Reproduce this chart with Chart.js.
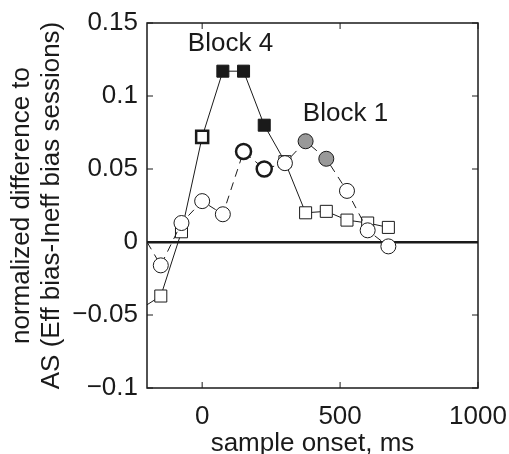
<!DOCTYPE html>
<html>
<head>
<meta charset="utf-8">
<script src="https://cdn.jsdelivr.net/npm/chart.js@4"></script>
<style>
  html, body { margin: 0; padding: 0; background: #fff; }
  #wrap { width: 509px; height: 454px; }
</style>
</head>
<body>
<div id="wrap"><canvas id="chart" width="509" height="454"></canvas></div>
<script>
// --- Data ---
const sampleOnset = [-225, -150, -75, 0, 75, 150, 225, 300, 375, 450, 525, 600, 675];
const block4Values = [-0.046, -0.037, 0.007, 0.072, 0.117, 0.117, 0.080, 0.055, 0.020, 0.021, 0.015, 0.013, 0.010];
const block1Values = [0.008, -0.016, 0.013, 0.028, 0.019, 0.062, 0.050, 0.054, 0.069, 0.057, 0.035, 0.008, -0.003];
const xTickValues = [0, 500, 1000];
const yTickValues = [-0.1, -0.05, 0, 0.05, 0.1, 0.15];
const block4Filled = [4, 5, 6];
const block4Bold = [3];
const block1Filled = [8, 9];
const block1Bold = [5, 6];

const FONT = 'Liberation Sans, Arial, Helvetica, sans-serif';
const FS = 26;
const INK = '#1a1a1a';

function toPoints(xs, ys) {
    return xs.map((x, i) => ({ x: x, y: ys[i] }));
}

// box + inward ticks + block labels (MATLAB style)
const frameAndLabels = {
    id: 'frameAndLabels',
    afterDraw(chart) {
        const ctx = chart.ctx;
        const a = chart.chartArea;
        const xs = chart.scales.x;
        const ys = chart.scales.y;
        const tl = 6;
        ctx.save();
        ctx.strokeStyle = INK;
        ctx.lineWidth = 1.5;
        ctx.strokeRect(a.left, a.top, a.right - a.left, a.bottom - a.top);
        ctx.lineWidth = 1;
        ctx.beginPath();
        xTickValues.forEach(v => {
            const px = xs.getPixelForValue(v);
            ctx.moveTo(px, a.bottom); ctx.lineTo(px, a.bottom - tl);
            ctx.moveTo(px, a.top); ctx.lineTo(px, a.top + tl);
        });
        yTickValues.forEach(v => {
            const py = ys.getPixelForValue(v);
            ctx.moveTo(a.left, py); ctx.lineTo(a.left + tl, py);
            ctx.moveTo(a.right, py); ctx.lineTo(a.right - tl, py);
        });
        ctx.stroke();

        ctx.fillStyle = INK;
        ctx.font = FS + 'px ' + FONT;
        ctx.textBaseline = 'middle';
        ctx.textAlign = 'left';
        ctx.fillText('Block 4', xs.getPixelForValue(-52), ys.getPixelForValue(0.1356));
        ctx.fillText('Block 1', xs.getPixelForValue(365), ys.getPixelForValue(0.088));
        ctx.restore();
    }
};

const ctx = document.getElementById('chart').getContext('2d');
new Chart(ctx, {
    type: 'line',
    data: {
        datasets: [
            {
                label: 'Block 1',
                data: toPoints(sampleOnset, block1Values),
                borderColor: INK,
                borderWidth: 1,
                borderDash: [8, 6],
                fill: false,
                tension: 0,
                pointStyle: 'circle',
                pointRadius: c => (c.dataIndex === 0 ? 0 : 7.5),
                pointBorderColor: INK,
                pointBackgroundColor: c => (block1Filled.includes(c.dataIndex) ? '#999999' : '#ffffff'),
                pointBorderWidth: c => (block1Bold.includes(c.dataIndex) ? 2.5 : 1)
            },
            {
                label: 'Block 4',
                data: toPoints(sampleOnset, block4Values),
                borderColor: INK,
                borderWidth: 1,
                fill: false,
                tension: 0,
                pointStyle: 'rect',
                pointRadius: c => (c.dataIndex === 0 ? 0 : 8.5),
                pointBorderColor: INK,
                pointBackgroundColor: c => (block4Filled.includes(c.dataIndex) ? INK : '#ffffff'),
                pointBorderWidth: c => (block4Bold.includes(c.dataIndex) ? 2.5 : 1)
            }
        ]
    },
    options: {
        responsive: false,
        animation: false,
        events: [],
        layout: { padding: { top: 23, right: 31, left: 0, bottom: 0 } },
        plugins: {
            legend: { display: false },
            tooltip: { enabled: false }
        },
        scales: {
            x: {
                type: 'linear',
                min: -200,
                max: 1000,
                afterFit: s => { s.height = 66; s.paddingRight = 0; s.paddingLeft = 0; },
                afterBuildTicks: s => { s.ticks = xTickValues.map(v => ({ value: v })); },
                grid: { display: false, drawTicks: false },
                border: { display: false },
                ticks: {
                    padding: 13,
                    color: INK,
                    maxRotation: 0,
                    font: { family: FONT, size: FS },
                    callback: v => String(v)
                },
                title: {
                    display: true,
                    text: 'sample onset, ms',
                    color: INK,
                    font: { family: FONT, size: FS, lineHeight: 1 },
                    padding: { top: 0, bottom: -3 }
                }
            },
            y: {
                type: 'linear',
                min: -0.1,
                max: 0.15,
                afterFit: s => { s.width = 147; s.paddingTop = 0; s.paddingBottom = 0; },
                afterBuildTicks: s => { s.ticks = yTickValues.map(v => ({ value: v })); },
                grid: {
                    drawTicks: false,
                    color: c => (c.tick && c.tick.value === 0 ? INK : 'rgba(0,0,0,0)'),
                    lineWidth: c => (c.tick && c.tick.value === 0 ? 2.5 : 0)
                },
                border: { display: false },
                ticks: {
                    padding: 9,
                    color: INK,
                    font: { family: FONT, size: FS },
                    callback: v => {
                        const r = Math.round(v * 100) / 100;
                        return String(r).replace('-', '\u2212');
                    }
                },
                title: {
                    display: true,
                    text: ['normalized difference to', 'AS (Eff bias-Ineff bias sessions)'],
                    color: INK,
                    font: { family: FONT, size: FS, lineHeight: 30 / 26 },
                    padding: { top: 7, bottom: 0 }
                }
            }
        }
    },
    plugins: [frameAndLabels]
});
</script>
</body>
</html>
